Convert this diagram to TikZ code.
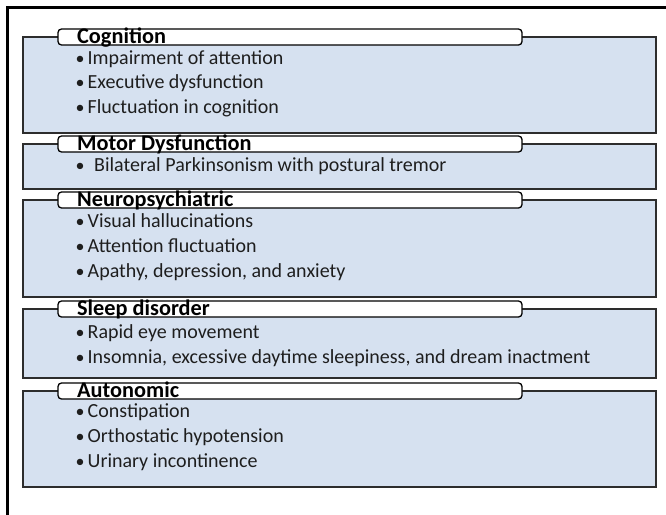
\documentclass[tikz,border=0pt]{standalone}
\usepackage{fontspec}
\setmainfont{Carlito}
\definecolor{boxblue}{RGB}{214,225,240}
\definecolor{boxline}{RGB}{45,45,45}
\definecolor{txt}{RGB}{30,30,30}
\tikzset{
  frameline/.style={line width=3pt, black},
  secbox/.style={fill=boxblue, draw=boxline, line width=1.4pt},
  sectab/.style={fill=white, draw=black, line width=1.3pt, rounded corners=3.5pt},
  sectitle/.style={anchor=base west, inner sep=0pt, text=black, font=\bfseries\fontsize{22.3}{25}\selectfont},
  itemtext/.style={anchor=base west, inner sep=0pt, text=txt, font=\fontsize{20}{22}\selectfont},
  bul/.style={anchor=base, inner sep=0pt, text=txt, font=\fontsize{18}{22}\selectfont}
}
\begin{document}
\begin{tikzpicture}[x=1pt,y=-1pt]
\useasboundingbox (0,0) rectangle (666,514);
\fill[white] (0,0) rectangle (666,514);
\draw[frameline] (7,516) -- (7,7) -- (668,7);

% Cognition
\draw[secbox] (23,37) rectangle (656,133);
\draw[sectab] (58,29) rectangle (522,45);
\node[sectitle] (t1) at (77,43) {Cognition};
\node[bul] (b11) at (80,64) {•};
\node[itemtext] (i11) at (87.5,64) {Impairment of attention};
\node[bul] (b12) at (80,88.5) {•};
\node[itemtext] (i12) at (87.5,88.5) {Executive dysfunction};
\node[bul] (b13) at (80,113) {•};
\node[itemtext] (i13) at (87.5,113) {Fluctuation in cognition};

% Motor Dysfunction
\draw[secbox] (23,144) rectangle (656,189);
\draw[sectab] (58,136) rectangle (522,152);
\node[sectitle] (t2) at (77,150) {Motor Dysfunction};
\node[bul] (b21) at (80,171) {•};
\node[itemtext] (i21) at (94,171) {Bilateral Parkinsonism with postural tremor};

% Neuropsychiatric
\draw[secbox] (23,200) rectangle (656,297);
\draw[sectab] (58,192) rectangle (522,208);
\node[sectitle] (t3) at (77,206) {Neuropsychiatric};
\node[bul] (b31) at (80,227.5) {•};
\node[itemtext] (i31) at (87.5,227.5) {Visual hallucinations};
\node[bul] (b32) at (80,252.5) {•};
\node[itemtext] (i32) at (87.5,252.5) {Attention fluctuation};
\node[bul] (b33) at (80,277.5) {•};
\node[itemtext] (i33) at (87.5,277.5) {Apathy, depression, and anxiety};

% Sleep disorder
\draw[secbox] (23,309) rectangle (656,378);
\draw[sectab] (58,301) rectangle (522,317);
\node[sectitle] (t4) at (77,315) {Sleep disorder};
\node[bul] (b41) at (80,338.5) {•};
\node[itemtext] (i41) at (87.5,338.5) {Rapid eye movement};
\node[bul] (b42) at (80,363) {•};
\node[itemtext] (i42) at (87.5,363) {Insomnia, excessive daytime sleepiness, and dream inactment};

% Autonomic
\draw[secbox] (23,391) rectangle (656,487);
\draw[sectab] (58,383) rectangle (522,399);
\node[sectitle] (t5) at (77,397) {Autonomic};
\node[bul] (b51) at (80,417.5) {•};
\node[itemtext] (i51) at (87.5,417.5) {Constipation};
\node[bul] (b52) at (80,442.5) {•};
\node[itemtext] (i52) at (87.5,442.5) {Orthostatic hypotension};
\node[bul] (b53) at (80,467) {•};
\node[itemtext] (i53) at (87.5,467) {Urinary incontinence};
\end{tikzpicture}
\end{document}
